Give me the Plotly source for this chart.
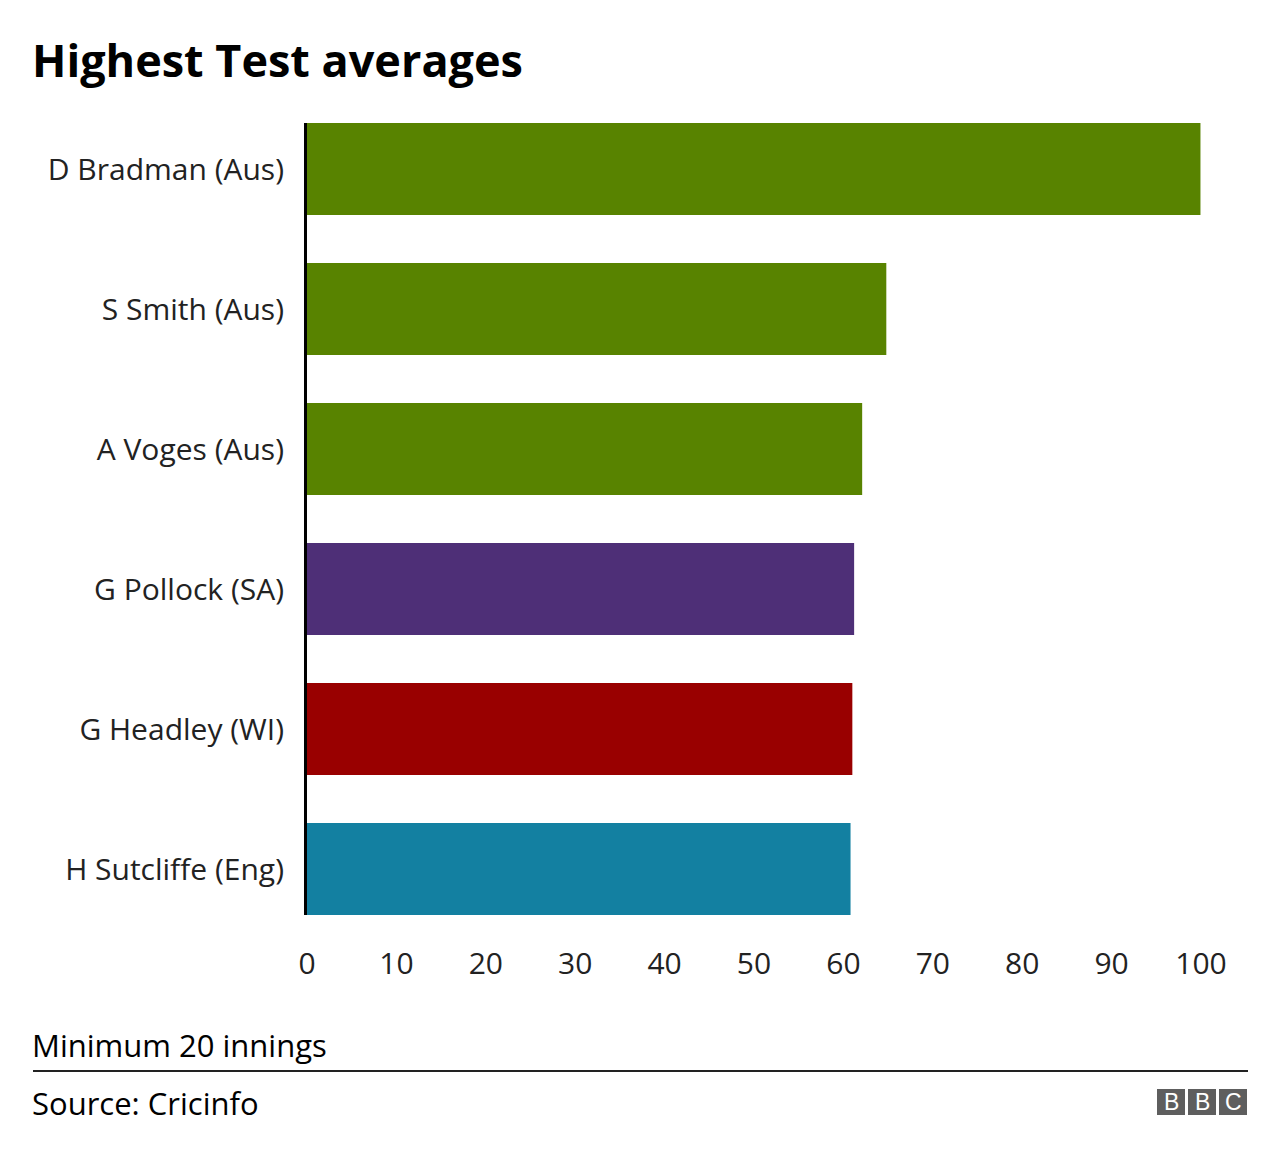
import plotly.graph_objects as go

players = ["D Bradman (Aus)", "S Smith (Aus)", "A Voges (Aus)",
           "G Pollock (SA)", "G Headley (WI)", "H Sutcliffe (Eng)"]
averages = [99.94, 64.8, 62.1, 61.2, 61.0, 60.8]
bar_colors = ["#588300", "#588300", "#588300", "#4e2f77", "#990000", "#1380a1"]
x_ticks = [0, 10, 20, 30, 40, 50, 60, 70, 80, 90, 100]

OFF = 8  # page body margin
W, H = 1280, 1158
ML, MR, MT, MB = 307 - OFF, 87, 123 - OFF, 243 + OFF
PW, PH = W - ML - MR, H - MT - MB

def px(x):
    return (x - OFF - ML) / PW

def py(y):
    return (H - MB - (y - OFF)) / PH

FONT = "Open Sans"

fig = go.Figure(go.Bar(
    x=averages, y=players, orientation="h",
    marker=dict(color=bar_colors, line=dict(width=0)),
    hoverinfo="x+y",
))

fig.update_layout(
    width=W, height=H,
    margin=dict(l=ML, r=MR, t=MT, b=MB),
    paper_bgcolor="white", plot_bgcolor="white",
    bargap=0.343,
    showlegend=False,
    font=dict(family=FONT, color="#222222", size=30),
)
fig.update_xaxes(
    range=[0, 100], tickvals=x_ticks, showgrid=False, zeroline=False,
    showline=False, ticks="outside", ticklen=22, tickcolor="rgba(0,0,0,0)",
    tickfont=dict(size=30, color="#222222", family=FONT),
    fixedrange=True,
)
fig.update_yaxes(
    categoryorder="array", categoryarray=players,
    range=[5.3286, -0.3286], showgrid=False, zeroline=False,
    showline=True, linecolor="#000000", linewidth=3,
    ticks="outside", ticklen=14, tickcolor="rgba(0,0,0,0)",
    tickfont=dict(size=30, color="#222222", family=FONT),
    fixedrange=True,
)

annotations = [
    dict(text="<b>Highest Test averages</b>", x=px(30), y=py(60), xref="paper", yref="paper",
         xanchor="left", yanchor="middle", showarrow=False,
         font=dict(size=45, color="#000000", family=FONT)),
    dict(text="Minimum 20 innings", x=px(30), y=py(1045), xref="paper", yref="paper",
         xanchor="left", yanchor="middle", showarrow=False,
         font=dict(size=31, color="#000000", family=FONT)),
    dict(text="Source: Cricinfo", x=px(30), y=py(1103), xref="paper", yref="paper",
         xanchor="left", yanchor="middle", showarrow=False,
         font=dict(size=31, color="#000000", family=FONT)),
]
shapes = [
    dict(type="line", xref="paper", yref="paper", x0=px(33), x1=px(1248),
         y0=py(1071), y1=py(1071), line=dict(color="#222222", width=2)),
]
for i, letter in enumerate(["B", "B", "C"]):
    x0 = 1157 + i * 31
    shapes.append(dict(type="rect", xref="paper", yref="paper",
                       x0=px(x0), x1=px(x0 + 28), y0=py(1115), y1=py(1089),
                       fillcolor="#5e5e5e", line=dict(width=0)))
    annotations.append(dict(text=letter, x=px(x0 + 14), y=py(1102),
                            xref="paper", yref="paper", xanchor="center", yanchor="middle",
                            showarrow=False,
                            font=dict(size=23, color="white", family="Liberation Sans")))

fig.update_layout(annotations=annotations, shapes=shapes)
fig.write_html("out.html")
